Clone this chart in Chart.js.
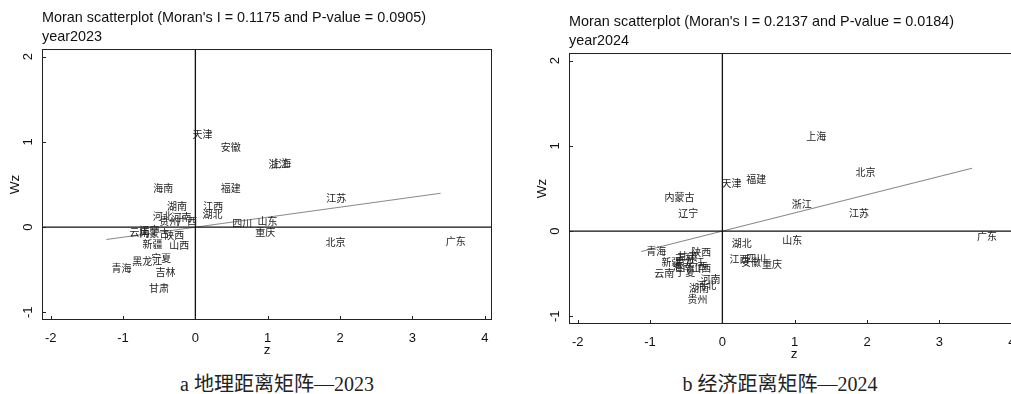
<!DOCTYPE html>
<html lang="zh">
<head>
<meta charset="UTF-8">
<title>Moran scatterplot</title>
<script src="https://cdn.jsdelivr.net/npm/chart.js"></script>
<style>
    body { margin: 0; width: 1011px; height: 394px; overflow: hidden; background: #fff; position: relative; }
    .panel { position: absolute; width: 505px; height: 360px; }
    .caption { position: absolute; top: 368px; font-family: "Liberation Serif", "Noto Sans CJK SC", serif; font-size: 20px; color: #222; transform: translateX(-50%); white-space: nowrap; }
</style>
</head>
<body>

<div class="panel" style="left:0;top:0"><canvas id="chart2023"></canvas></div>
<div class="panel" style="left:527px;top:4px"><canvas id="chart2024"></canvas></div>
<div class="caption" style="left:277px">a 地理距离矩阵—2023</div>
<div class="caption" style="left:780px">b 经济距离矩阵—2024</div>

<script>
    // tick values
    const xTicks = [-2, -1, 0, 1, 2, 3, 4];
    const yTicks = [-1, 0, 1, 2];

    // 2023, geographic distance matrix
    const provinces2023 = ['天津','安徽','浙江','上海','海南','福建','湖南','江西','湖北','河北','贵州','河南','广西','云南','内蒙古','辽宁','陕西','新疆','山西','宁夏','黑龙江','吉林','青海','甘肃','四川','山东','重庆','江苏','北京','广东'];
    const z2023  = [-0.11, 0.28, 0.94, 0.98, -0.65, 0.28, -0.46, 0.04, 0.03, -0.66, -0.57, -0.40, -0.32, -0.98, -0.84, -0.84, -0.50, -0.80, -0.43, -0.68, -0.94, -0.62, -1.23, -0.71, 0.44, 0.79, 0.76, 1.74, 1.73, 3.39];
    const wz2023 = [1.09, 0.94, 0.74, 0.75, 0.46, 0.46, 0.25, 0.25, 0.15, 0.13, 0.07, 0.12, 0.07, -0.06, -0.07, -0.04, -0.09, -0.20, -0.21, -0.36, -0.40, -0.53, -0.48, -0.72, 0.05, 0.07, -0.06, 0.34, -0.18, -0.16];
    const moranI2023 = 0.1175;
    const pValue2023 = 0.0905;

    // 2024, economic distance matrix
    const provinces2024 = ['上海','北京','天津','福建','内蒙古','辽宁','浙江','江苏','山东','广东','湖北','江西','四川','安徽','重庆','青海','陕西','吉林','甘肃','新疆','黑龙江','云南','宁夏','海南','山西','广西','河南','湖南','河北','贵州'];
    const z2024  = [1.09, 1.77, -0.08, 0.26, -0.87, -0.68, 0.89, 1.68, 0.76, 3.45, 0.06, 0.03, 0.26, 0.19, 0.48, -1.12, -0.50, -0.72, -0.69, -0.91, -0.73, -1.01, -0.72, -0.76, -0.50, -0.55, -0.37, -0.53, -0.43, -0.55];
    const wz2024 = [1.11, 0.69, 0.56, 0.61, 0.40, 0.21, 0.32, 0.21, -0.11, -0.06, -0.14, -0.33, -0.32, -0.37, -0.39, -0.23, -0.25, -0.32, -0.29, -0.37, -0.37, -0.49, -0.48, -0.42, -0.44, -0.41, -0.57, -0.67, -0.64, -0.80];
    const moranI2024 = 0.2137;
    const pValue2024 = 0.0184;

    const sans = '"Liberation Sans", Arial, sans-serif';

    // zero lines, box, inner ticks, rotated y labels, province names
    const overlay = {
        id: 'overlay',
        afterDatasetsDraw(chart, args, opts) {
            const { ctx, chartArea: a, scales: { x, y } } = chart;
            ctx.save();

            const x0 = x.getPixelForValue(0), y0 = y.getPixelForValue(0);
            ctx.strokeStyle = '#111';
            ctx.lineWidth = 1.3;
            ctx.beginPath();
            ctx.moveTo(x0, a.top); ctx.lineTo(x0, a.bottom);
            ctx.moveTo(a.left, y0); ctx.lineTo(a.right, y0);
            ctx.stroke();

            ctx.font = '10px "Noto Sans CJK SC"';
            ctx.fillStyle = '#222';
            ctx.textAlign = 'left';
            ctx.textBaseline = 'middle';
            chart.getDatasetMeta(0).data.forEach((pt, i) => {
                ctx.fillText(opts.labels[i], pt.x + 5, pt.y);
            });

            ctx.strokeStyle = '#222';
            ctx.lineWidth = 1;
            ctx.strokeRect(a.left + 0.5, a.top + 0.5, a.width - 1, a.height - 1);

            ctx.beginPath();
            xTicks.forEach(v => {
                const px = Math.round(x.getPixelForValue(v)) + 0.5;
                ctx.moveTo(px, a.bottom); ctx.lineTo(px, a.bottom - 4);
            });
            yTicks.forEach(v => {
                const py = Math.round(y.getPixelForValue(v)) + 0.5;
                ctx.moveTo(a.left, py); ctx.lineTo(a.left + 4, py);
            });
            ctx.stroke();

            ctx.font = '13px ' + sans;
            ctx.fillStyle = '#111';
            ctx.textAlign = 'center';
            yTicks.forEach(v => {
                ctx.save();
                ctx.translate(a.left - 14, y.getPixelForValue(v));
                ctx.rotate(-Math.PI / 2);
                ctx.fillText(String(v), 0, 0);
                ctx.restore();
            });
            ctx.restore();
        }
    };

    function makeChart(id, zs, wzs, names, moranI, pValue, year) {
        const pts = zs.map((z, i) => ({ x: z, y: wzs[i] }));
        const zMin = Math.min(...zs), zMax = Math.max(...zs);
        return new Chart(document.getElementById(id), {
            type: 'scatter',
            data: {
                datasets: [
                    { data: pts, pointRadius: 0, pointHoverRadius: 0 },
                    { data: [{ x: zMin, y: moranI * zMin }, { x: zMax, y: moranI * zMax }],
                      showLine: true, borderColor: '#8a8a8a', borderWidth: 1.1, pointRadius: 0 }
                ]
            },
            options: {
                responsive: true,
                maintainAspectRatio: false,
                animation: false,
                events: [],
                layout: { padding: { left: 0, right: 13, top: 0, bottom: 0 } },
                plugins: {
                    legend: { display: false },
                    tooltip: { enabled: false },
                    title: {
                        display: true,
                        text: ["Moran scatterplot (Moran's I = " + moranI.toFixed(4) + " and P-value = " + pValue.toFixed(4) + ")", 'year' + year],
                        align: 'start',
                        fullSize: false,
                        color: '#111',
                        font: { family: sans, size: 14.4, weight: 'normal', lineHeight: 1.32 },
                        padding: { top: 9, bottom: 2 }
                    },
                    overlay: { labels: names }
                },
                scales: {
                    x: {
                        type: 'linear',
                        min: -2.12,
                        max: 4.1,
                        afterBuildTicks: s => { s.ticks = xTicks.map(v => ({ value: v })); },
                        afterFit: s => { s.height = 40; },
                        grid: { display: false },
                        border: { display: false },
                        ticks: { color: '#111', padding: 3, font: { family: sans, size: 13 }, maxRotation: 0 },
                        title: { display: true, text: 'z', color: '#111', font: { family: sans, size: 13.5 }, padding: { top: 0, bottom: 2 } }
                    },
                    y: {
                        type: 'linear',
                        min: -1.09,
                        max: 2.09,
                        afterBuildTicks: s => { s.ticks = yTicks.map(v => ({ value: v })); },
                        afterFit: s => { s.width = 42; },
                        grid: { display: false },
                        border: { display: false },
                        ticks: { display: false },
                        title: { display: true, text: 'Wz', color: '#111', font: { family: sans, size: 13.5 }, padding: { top: 7, bottom: 0 } }
                    }
                }
            },
            plugins: [overlay]
        });
    }

    makeChart('chart2023', z2023, wz2023, provinces2023, moranI2023, pValue2023, 2023);
    makeChart('chart2024', z2024, wz2024, provinces2024, moranI2024, pValue2024, 2024);
</script>

</body>
</html>
